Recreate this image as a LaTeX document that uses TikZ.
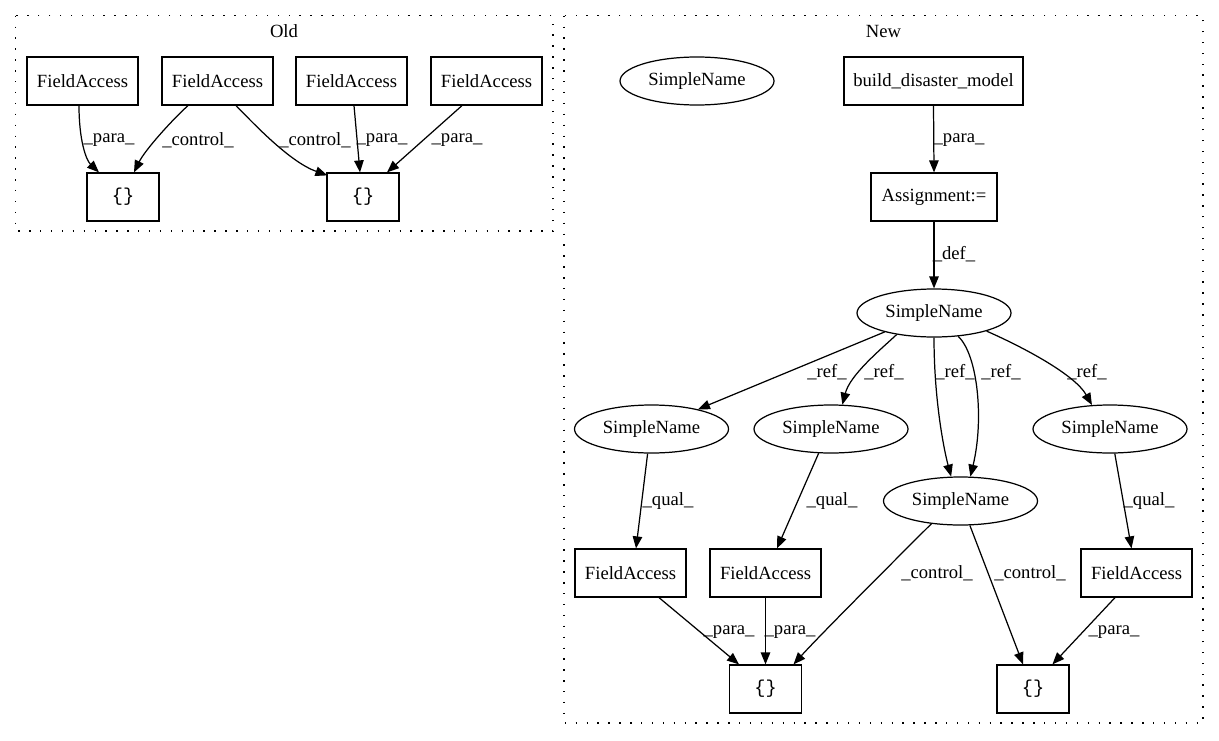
\documentclass[tikz,border=0pt]{standalone}
\usepackage{fontspec}
\setmainfont{Liberation Serif}
\setmonofont{Liberation Mono}
\usetikzlibrary{calc,shapes.geometric,arrows.meta}

\begin{document}
\begin{tikzpicture}[x=0.02cm,y=-0.02cm,
  font=\fontsize{10.6}{12}\selectfont,
  box/.style={draw,line width=0.7pt,minimum width=2.22cm,minimum height=0.96cm,inner sep=0pt},
  brace/.style={box,minimum width=1.44cm,font=\fontsize{10.6}{12}\selectfont\ttfamily},
  oval/.style={draw,ellipse,line width=0.7pt,minimum width=3.08cm,minimum height=0.96cm,inner sep=0pt},
  cluster/.style={line width=0.7pt,dash pattern=on 0.8pt off 5.4pt},
  edge/.style={line width=0.7pt,-{Triangle[length=0.24cm,width=0.19cm]}},
  lbl/.style={inner sep=0pt}]
\useasboundingbox (0,0) rectangle (1219,740);

% Old
\draw[cluster] (15.7,15.7) rectangle (553,231);
\node (oldlbl) at (284,31) {Old};
\node[box] (ofa1) at (82.5,81) {FieldAccess};
\node[box] (ofa2) at (217.5,81) {FieldAccess};
\node[box] (ofa3) at (351.5,81) {FieldAccess};
\node[box] (ofa4) at (486.5,81) {FieldAccess};
\node[brace] (obr1) at (123,197) {\{\}};
\node[brace] (obr2) at (363,197) {\{\}};

\draw[edge] ($(ofa1.south)+(-3.5,0)$) .. controls (79,140) and (86,160) .. ($(obr1.north)+(-24,0)$) node[lbl,at={(109,140)}] {\_para\_};
\draw[edge] ($(ofa2.south)+(-29.5,0)$) .. controls (172,120) and (145,150) .. ($(obr1.north)+(11,0)$) node[lbl,at={(198,140)}] {\_control\_};
\draw[edge] ($(ofa2.south)+(18.5,0)$) .. controls (255,125) and (290,162) .. ($(obr2.north west)+(1,3)$) node[lbl,at={(315,140)}] {\_control\_};
\draw[edge] ($(ofa3.south)+(2.5,0)$) -- ($(obr2.north)+(-3,0)$) node[lbl,at={(382,140)}] {\_para\_};
\draw[edge] ($(ofa4.south)+(-24.5,0)$) -- ($(obr2.north)+(24,0)$) node[lbl,at={(457,140)}] {\_para\_};

% New
\draw[cluster] (564,15.7) rectangle (1203,723);
\node (newlbl) at (883.5,31) {New};
\node[oval] (lone) at (697,81) {SimpleName};
\node[box,minimum width=3.58cm] (build) at (933.5,81) {build\_disaster\_model};
\node[box,minimum width=2.52cm] (assign) at (934,197) {Assignment:=};
\node[oval] (sn) at (934,313) {SimpleName};
\node[oval] (snA) at (651.5,429) {SimpleName};
\node[oval] (snB) at (831,429) {SimpleName};
\node[oval] (snC) at (960.5,501) {SimpleName};
\node[oval] (snD) at (1110,429) {SimpleName};
\node[box] (faA) at (630.5,573) {FieldAccess};
\node[box] (faB) at (765.5,573) {FieldAccess};
\node[box] (faC) at (1136.5,573) {FieldAccess};
\node[brace] (brA) at (765.5,689) {\{\}};
\node[brace] (brB) at (1033,689) {\{\}};

\draw[edge] (build.south) -- (assign.north) node[lbl,at={(959,140)}] {\_para\_};
\draw[edge] (assign.south) -- (sn.north) node[lbl,at={(954,254)}] {\_def\_};
\draw[edge] (sn.201.8) -- (snA.23.8) node[lbl,at={(827,372)}] {\_ref\_};
\draw[edge] (sn.210.7) .. controls (880,350) and (850,375) .. (snB.65) node[lbl,at={(884,372)}] {\_ref\_};
\draw[edge] (sn.south) .. controls (934,400) and (944,450) .. (snC.111.8) node[lbl,at={(955,372)}] {\_ref\_};
\draw[edge] (sn.316.5) .. controls (978,355) and (984,420) .. (snC.68.2) node[lbl,at={(1001,372)}] {\_ref\_};
\draw[edge] (sn.341.8) .. controls (1025,348) and (1075,375) .. (snD.127.7) node[lbl,at={(1087,372)}] {\_ref\_};
\draw[edge] (snA.261.7) -- ($(faA.north)+(5.5,0)$) node[lbl,at={(668,501)}] {\_qual\_};
\draw[edge] (snB.243.1) -- ($(faB.north)+(11.5,0)$) node[lbl,at={(832,501)}] {\_qual\_};
\draw[edge] (snD.281.8) -- ($(faC.north)+(-5,0)$) node[lbl,at={(1149,501)}] {\_qual\_};
\draw[edge] ($(faA.south)+(28.5,0)$) -- ($(brA.north)+(-26.5,0)$) node[lbl,at={(729,632)}] {\_para\_};
\draw[edge] (faB.south) -- (brA.north) node[lbl,at={(790,632)}] {\_para\_};
\draw[edge] (snC.218.6) .. controls (905,550) and (820,635) .. ($(brA.north)+(28,0)$) node[lbl,at={(937,573)}] {\_control\_};
\draw[edge] (snC.291.8) -- ($(brB.north)+(-10,0)$) node[lbl,at={(1030,573)}] {\_control\_};
\draw[edge] ($(faC.south)+(-21.5,0)$) -- ($(brB.north)+(19.4,0)$) node[lbl,at={(1114,632)}] {\_para\_};
\end{tikzpicture}
\end{document}
